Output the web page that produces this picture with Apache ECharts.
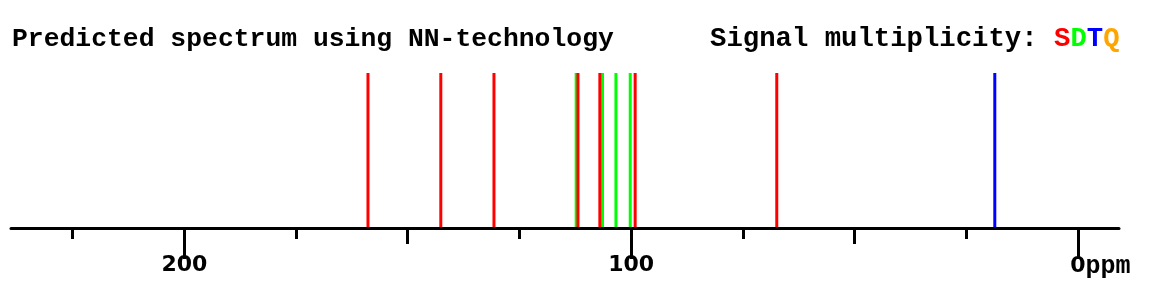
<!DOCTYPE html>
<html><head><meta charset="utf-8">
<script src="https://cdn.jsdelivr.net/npm/echarts@6/dist/echarts.min.js"></script>
<style>html,body{margin:0;padding:0;background:#fff}#c{width:1173px;height:290px}</style>
</head><body><div id="c"></div>
<script>
// Chemical shifts (ppm) by signal multiplicity
const singlets = [158.9, 142.6, 130.7, 111.9, 107.0, 99.1, 67.4];
const doublets = [112.3, 106.4, 103.4, 100.2];
const triplets = [18.6];
const quartets = [];
// Axis ticks (ppm)
const majorTicks = [200, 100, 0];
const mediumTicks = [150, 50];
const minorTicks = [225, 175, 125, 75, 25];
const axisMin = -9.2, axisMax = 238.8;
const titleText = 'Predicted spectrum using NN-technology';
const legendText = 'Signal multiplicity: ';

const chart = echarts.init(document.getElementById('c'), null, {renderer: 'canvas'});
const mono = '"Liberation Mono", "DejaVu Sans Mono", monospace';

function renderLine(params, api) {
  const x = api.value(0);
  const p0 = api.coord([x, 0]);
  const p1 = api.coord([x, api.value(1)]);
  return {type: 'line', shape: {x1: p0[0], y1: p0[1], x2: p1[0], y2: p1[1]},
          style: {stroke: api.visual('color'), lineWidth: 3}};
}
function mkSeries(name, vals, color) {
  return {type: 'custom', name, renderItem: renderLine, z: 2,
          encode: {x: 0, y: 1}, itemStyle: {color},
          data: vals.map(v => [v, 1])};
}
function tickAxis(vals, len, showLine, showLabel) {
  return {
    type: 'value', position: 'bottom', inverse: true, min: axisMin, max: axisMax, z: 5,
    axisLine: {show: showLine, onZero: false, lineStyle: {color: '#000', width: 3}},
    axisTick: {show: true, customValues: vals, length: len, lineStyle: {color: '#000', width: 3}},
    axisLabel: showLabel ? {
      show: true, customValues: vals, margin: 26,
      formatter: v => v === 0 ? '{h|ppm}{n|0}{p|ppm}' : '{n|' + v + '}',
      rich: {
        n: {fontFamily: '"DejaVu Sans", sans-serif', fontWeight: 'bold', fontSize: 22, color: '#000'},
        p: {fontFamily: mono, fontWeight: 'bold', fontSize: 25, color: '#000'},
        h: {fontFamily: mono, fontWeight: 'bold', fontSize: 25, color: 'rgba(0,0,0,0)'}
      }
    } : {show: false},
    splitLine: {show: false}
  };
}

const t1Style = {fontFamily: mono, fontWeight: 'bold', fontSize: 26.4};
const t2Style = {fontFamily: mono, fontWeight: 'bold', fontSize: 27.3};
chart.setOption({
  animation: false,
  backgroundColor: '#fff',
  title: [
    {text: titleText, left: 7, top: 21,
     textStyle: Object.assign({color: '#000'}, t1Style)},
    {text: legendText + '{s|S}{d|D}{t|T}{q|Q}', left: 705, top: 21,
     textStyle: Object.assign({color: '#000',
       rich: {
         s: Object.assign({color: '#ff0000'}, t2Style),
         d: Object.assign({color: '#00ff00'}, t2Style),
         t: Object.assign({color: '#0000ff'}, t2Style),
         q: Object.assign({color: '#ffa500'}, t2Style)
       }}, t2Style)}
  ],
  grid: {left: 11, right: 54, top: 73, bottom: 62},
  xAxis: [
    tickAxis(majorTicks, 31, true, true),
    tickAxis(mediumTicks, 16, false, false),
    tickAxis(minorTicks, 11, false, false)
  ],
  yAxis: {type: 'value', min: 0, max: 1, show: false},
  series: [
    mkSeries('D', doublets, '#00ff00'),
    mkSeries('S', singlets, '#ff0000'),
    mkSeries('T', triplets, '#0000ff'),
    mkSeries('Q', quartets, '#ffa500')
  ]
});
</script></body></html>
